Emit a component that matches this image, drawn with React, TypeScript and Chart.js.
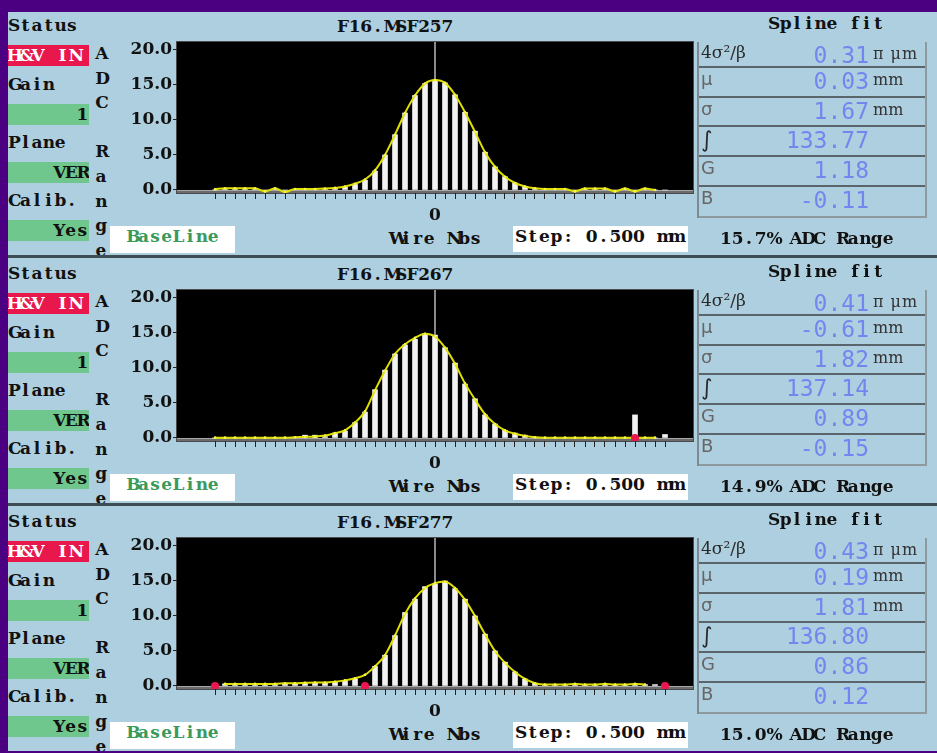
import React, { useEffect, useRef } from "react";
import { Chart, registerables } from "chart.js";

Chart.register(...registerables);

// ---------- data ----------
const WIRES = [
  -22, -21, -20, -19, -18, -17, -16, -15, -14, -13, -12, -11, -10, -9, -8, -7, -6, -5, -4, -3, -2, -1,
  0, 1, 2, 3, 4, 5, 6, 7, 8, 9, 10, 11, 12, 13, 14, 15, 16, 17, 18, 19, 20, 21, 22, 23,
];
const Y_TICKS = [0, 5, 10, 15, 20];

const TITLES = ["F16.MSF257", "F16.MSF267", "F16.MSF277"];
const ADC_RANGES = ["15.7%", "14.9%", "15.0%"];

const BARS_257 = [
  0.0, 0.1, 0.1, 0.1, 0.1, 0.0, 0.1, 0.0, 0.1, 0.1, 0.1, 0.2, 0.3, 0.4, 0.8, 1.4, 2.7, 5.0, 7.9, 11.0, 13.5, 15.2,
  15.7, 15.3, 13.6, 11.1, 8.4, 5.4, 3.3, 1.9, 1.0, 0.5, 0.2, 0.1, 0.1, 0.1, 0.0, 0.1, 0.1, 0.1, 0.0, 0.1, 0.0, 0.1, 0.0, 0.0,
];
const FIT_257 = [
  0.1, 0.25, 0.25, 0.25, 0.25, -0.2, 0.25, -0.3, 0.15, 0.15, 0.15, 0.2, 0.3, 0.5, 0.9, 1.5, 2.8, 5.0, 7.9, 11.0, 13.5, 15.2,
  15.7, 15.3, 13.6, 11.1, 8.3, 5.4, 3.3, 1.9, 1.0, 0.5, 0.25, 0.15, 0.15, 0.15, -0.2, 0.2, 0.2, 0.2, -0.2, 0.2, -0.2, 0.2, 0.0, null,
];
const REJECT_WIRES_257: number[] = [];
const REJECT_VALUES_257: number[] = [];

const BARS_267 = [
  0.0, 0.0, 0.0, 0.0, 0.0, 0.0, 0.0, 0.1, 0.1, 0.4, 0.4, 0.2, 0.7, 1.0, 2.2, 3.7, 6.9, 9.7, 12.0, 13.3, 14.1, 14.9,
  14.7, 12.9, 10.7, 7.7, 5.6, 3.3, 2.0, 1.1, 0.7, 0.4, 0.1, 0.0, 0.0, 0.0, 0.0, 0.0, 0.0, 0.0, 0.0, 0.0, 3.3, 0.0, 0.0, 0.5,
];
const FIT_267 = [
  0.05, 0.05, 0.05, 0.05, 0.05, 0.05, 0.05, 0.05, 0.1, 0.15, 0.2, 0.35, 0.7, 1.1, 2.2, 3.8, 6.8, 9.6, 12.0, 13.4, 14.3, 14.9,
  14.5, 12.9, 10.6, 7.8, 5.5, 3.4, 2.0, 1.1, 0.6, 0.3, 0.1, 0.05, 0.05, 0.05, 0.05, 0.05, 0.05, 0.05, 0.05, 0.05, 0.05, 0.05, 0.05, null,
];
const REJECT_WIRES_267 = [20];
const REJECT_VALUES_267 = [0.0];

const BARS_277 = [
  0.0, 0.3, 0.3, 0.3, 0.3, 0.3, 0.3, 0.4, 0.4, 0.5, 0.5, 0.4, 0.6, 0.8, 1.0, 0.0, 2.8, 4.4, 7.2, 10.5, 12.4, 14.2,
  14.6, 15.0, 13.9, 12.4, 10.0, 7.4, 5.0, 3.4, 2.0, 1.0, 0.4, 0.2, 0.2, 0.2, 0.3, 0.2, 0.2, 0.3, 0.2, 0.2, 0.3, 0.2, 0.2, 0.0,
];
const FIT_277 = [
  null, 0.3, 0.3, 0.3, 0.3, 0.3, 0.3, 0.4, 0.4, 0.45, 0.5, 0.5, 0.6, 0.8, 1.1, 1.6, 2.8, 4.4, 7.2, 10.3, 12.5, 14.0,
  14.7, 14.9, 14.0, 12.3, 10.0, 7.4, 5.0, 3.3, 2.0, 1.0, 0.4, 0.2, 0.2, 0.2, 0.3, 0.2, 0.2, 0.3, 0.2, 0.2, 0.3, 0.2, null, null,
];
const REJECT_WIRES_277 = [-22, -7, 23];
const REJECT_VALUES_277 = [0.0, 0.0, 0.0];

const FIT_LABELS = ["4σ²/β", "μ", "σ", "∫", "G", "B"];
const FIT_UNITS = ["π μm", "mm", "mm", "", "", ""];
const FIT_VALUES_257 = ["0.31", "0.03", "1.67", "133.77", "1.18", "-0.11"];
const FIT_VALUES_267 = ["0.41", "-0.61", "1.82", "137.14", "0.89", "-0.15"];
const FIT_VALUES_277 = ["0.43", "0.19", "1.81", "136.80", "0.86", "0.12"];

const STATUS_LABELS = ["Status", "Gain", "Plane", "Calib."];
const STATUS_VALUES = ["H&V IN", "1", "VER", "Yes"];
const ADC_LETTERS = ["A", "D", "C", "", "R", "a", "n", "g", "e"];

const PANELS = [
  { title: TITLES[0], adc: ADC_RANGES[0], bars: BARS_257, fit: FIT_257, rejW: REJECT_WIRES_257, rejV: REJECT_VALUES_257, vals: FIT_VALUES_257 },
  { title: TITLES[1], adc: ADC_RANGES[1], bars: BARS_267, fit: FIT_267, rejW: REJECT_WIRES_267, rejV: REJECT_VALUES_267, vals: FIT_VALUES_267 },
  { title: TITLES[2], adc: ADC_RANGES[2], bars: BARS_277, fit: FIT_277, rejW: REJECT_WIRES_277, rejV: REJECT_VALUES_277, vals: FIT_VALUES_277 },
];

// ---------- styles ----------
const BG = "#aecfdf";
const PURPLE = "#4b0082";
const FAMILY = "'DejaVu Serif', serif";
const BOLD = `bold 17px ${FAMILY}`;
const CELL = 11.6;
const AXIS_FONT = { family: FAMILY, size: 17, weight: "bold" as const };

const plotPlugin = {
  id: "plotBg",
  beforeDraw(chart: any) {
    const { ctx, chartArea, scales } = chart;
    const { left, top, right, bottom } = chartArea;
    const y0 = scales.y.getPixelForValue(0);
    const cx = scales.x.getPixelForValue(0);
    ctx.save();
    ctx.fillStyle = "#000";
    ctx.fillRect(left, top, right - left, bottom - top);
    ctx.fillStyle = "#6c6c6c";
    ctx.fillRect(left, y0, right - left, bottom - y0);
    ctx.fillStyle = "#a8a8a8";
    ctx.fillRect(left, y0, right - left, 1);
    ctx.fillStyle = "#8a8a8a";
    ctx.fillRect(cx - 1, top, 2, y0 - top);
    ctx.strokeStyle = "#4a4a4a";
    ctx.lineWidth = 1;
    ctx.strokeRect(left - 0.5, top - 0.5, right - left + 1, bottom - top + 1);
    ctx.restore();
  },
};

function WireChart({ bars, fit, rejW, rejV }: any) {
  const ref = useRef<HTMLCanvasElement>(null);
  useEffect(() => {
    const chart = new Chart(ref.current as HTMLCanvasElement, {
      type: "bar",
      data: {
        datasets: [
          {
            type: "line",
            data: rejW.map((w: number, i: number) => ({ x: w, y: rejV[i] })),
            showLine: false,
            pointRadius: 4,
            pointBackgroundColor: "#ec1650",
            pointBorderWidth: 0,
          } as any,
          {
            type: "line",
            data: WIRES.map((w, i) => ({ x: w, y: fit[i] })),
            borderColor: "#e0e000",
            borderWidth: 2,
            cubicInterpolationMode: "monotone",
            pointRadius: 1.3,
            pointBackgroundColor: "#f6f650",
            pointBorderWidth: 0,
            spanGaps: false,
          } as any,
          {
            type: "bar",
            data: WIRES.map((w, i) => ({ x: w, y: bars[i] })),
            backgroundColor: "#f2f2f2",
            barThickness: 5,
            borderWidth: 0,
          } as any,
        ],
      },
      options: {
        animation: false,
        responsive: false,
        devicePixelRatio: 1,
        events: [],
        layout: { padding: { top: 4, right: 7, left: 0, bottom: 0 } },
        plugins: { legend: { display: false }, tooltip: { enabled: false } },
        scales: {
          x: {
            type: "linear",
            min: -25.8,
            max: 25.8,
            offset: false,
            grid: { offset: false, drawOnChartArea: false, drawTicks: true, tickLength: 6, color: "#222" },
            border: { display: false },
            ticks: {
              autoSkip: false,
              maxRotation: 0,
              minRotation: 0,
              padding: 6,
              color: "#111",
              font: AXIS_FONT,
              callback: (v: any) => (Number(v) === 0 ? "0" : ""),
            },
            afterBuildTicks: (s: any) => {
              s.ticks = WIRES.map((v) => ({ value: v }));
            },
            afterFit: (s: any) => {
              s.height = 30;
              s.paddingLeft = 0;
              s.paddingRight = 0;
            },
          },
          y: {
            type: "linear",
            min: -0.43,
            max: 21.14,
            grid: { drawOnChartArea: false, drawTicks: true, tickLength: 4, color: "#222" },
            border: { display: false },
            ticks: {
              padding: 1,
              color: "#111",
              font: AXIS_FONT,
              callback: (v: any) => Number(v).toFixed(1),
            },
            afterBuildTicks: (s: any) => {
              s.ticks = Y_TICKS.map((v) => ({ value: v }));
            },
            afterFit: (s: any) => {
              s.width = 67;
              s.paddingTop = 0;
              s.paddingBottom = 0;
            },
          },
        } as any,
      },
      plugins: [plotPlugin],
    });
    return () => chart.destroy();
  }, []);
  return (
    <canvas
      ref={ref}
      width={590}
      height={185}
      style={{ position: "absolute", left: 110, top: 28, width: 590, height: 185 }}
    />
  );
}

// fixed-pitch text: every glyph centred in a cell of the same width
function Mono({ text, cell = CELL }: any) {
  return (
    <>
      {String(text)
        .split("")
        .map((ch: string, i: number) => (
          <span key={i} style={{ display: "inline-block", width: cell, textAlign: "center" }}>
            {ch === " " ? "\u00a0" : ch}
          </span>
        ))}
    </>
  );
}

function Txt({ x, cy, text, align = "left", color = "#111", font = BOLD, width = 300, style = {} }: any) {
  const left = align === "left" ? x : align === "center" ? x - width / 2 : x - width;
  return (
    <div
      style={{
        position: "absolute",
        left,
        top: cy - 12,
        width,
        height: 24,
        lineHeight: "24px",
        textAlign: align,
        color,
        font,
        whiteSpace: "pre",
        ...style,
      }}
    >
      <Mono text={text} />
    </div>
  );
}

function StatusBox({ top, text, red }: any) {
  return (
    <div
      style={{
        position: "absolute",
        left: 8,
        top,
        width: 81,
        height: 21,
        background: red ? "#e8174c" : "#6fc78e",
        overflow: "hidden",
      }}
    >
      <div
        style={{
          position: "absolute",
          right: red ? 8 : 1,
          top: 0,
          height: 21,
          lineHeight: "21px",
          font: BOLD,
          color: red ? "#fff" : "#111",
          whiteSpace: "pre",
        }}
      >
        <Mono text={text} cell={red ? 12.4 : CELL} />
      </div>
    </div>
  );
}

const ROW_H = [26, 30, 29, 30, 30, 31];

function FitTable({ vals }: any) {
  let y = 0;
  return (
    <div
      style={{
        position: "absolute",
        left: 697,
        top: 32,
        width: 226,
        height: 176,
        borderLeft: "2px solid #7d8a90",
        borderRight: "2px solid #8d9aa0",
      }}
    >
      {FIT_LABELS.map((lab, i) => {
        const top = y;
        y += ROW_H[i];
        const h = ROW_H[i];
        const first = i === 0;
        return (
          <div
            key={i}
            style={{
              position: "absolute",
              left: 0,
              top,
              width: 226,
              height: h - 2,
              borderBottom: i < 5 ? "2px solid #59656b" : "2px solid #8d9aa0",
            }}
          >
            <div
              style={{
                position: "absolute",
                left: 2,
                top: 0,
                height: h - 2,
                lineHeight: `${h - 2}px`,
                font: first ? "17px 'DejaVu Serif', serif" : i === 3 ? "22px 'DejaVu Sans', sans-serif" : "18px 'DejaVu Sans', sans-serif",
                color: first || i === 3 ? "#2a2a2a" : "#666",
                whiteSpace: "pre",
              }}
            >
              {lab}
            </div>
            <div
              style={{
                position: "absolute",
                right: 226 - 170,
                top: 0,
                height: h - 2,
                lineHeight: `${h - 2}px`,
                font: "23px 'DejaVu Sans Mono', monospace",
                color: "#7386f0",
                whiteSpace: "pre",
              }}
            >
              {vals[i]}
            </div>
            <div
              style={{
                position: "absolute",
                left: 174,
                top: 2,
                height: h - 2,
                lineHeight: `${h - 2}px`,
                font: "16px 'DejaVu Serif', serif",
                color: "#333",
                letterSpacing: i === 0 ? 1 : 0,
                whiteSpace: "pre",
              }}
            >
              {FIT_UNITS[i]}
            </div>
          </div>
        );
      })}
    </div>
  );
}

function Panel({ top, p }: any) {
  return (
    <div style={{ position: "absolute", left: 0, top, width: 937, height: 245, background: BG, overflow: "hidden" }}>
      <Txt x={8} cy={17} text={STATUS_LABELS[0]} />
      <StatusBox top={35} text={STATUS_VALUES[0]} red />
      <Txt x={8} cy={76} text={STATUS_LABELS[1]} />
      <StatusBox top={94} text={STATUS_VALUES[1]} />
      <Txt x={8} cy={134} text={STATUS_LABELS[2]} />
      <StatusBox top={152} text={STATUS_VALUES[2]} />
      <Txt x={8} cy={192} text={STATUS_LABELS[3]} />
      <StatusBox top={210} text={STATUS_VALUES[3]} />

      {ADC_LETTERS.map((l, k) => (
        <Txt key={k} x={101} cy={45 + 24.6 * k} align="center" width={20} text={l} />
      ))}

      <Txt x={395} cy={18} align="center" text={p.title} />
      <WireChart bars={p.bars} fit={p.fit} rejW={p.rejW} rejV={p.rejV} />

      <div style={{ position: "absolute", left: 110, top: 216, width: 125, height: 27, background: "#fff" }}>
        <div style={{ textAlign: "center", lineHeight: "27px", font: BOLD, color: "#3b9a5a", whiteSpace: "pre" }}>
          <Mono text="BaseLine" />
        </div>
      </div>
      <Txt x={435} cy={230} align="center" text="Wire Nbs" />
      <div style={{ position: "absolute", left: 513, top: 216, width: 175, height: 26, background: "#fff", overflow: "hidden" }}>
        <div style={{ paddingLeft: 2, lineHeight: "26px", font: BOLD, color: "#111", whiteSpace: "pre" }}>
          <Mono text="Step: 0.500 mm" cell={11.8} />
        </div>
      </div>

      <Txt x={826} cy={15} align="center" text="Spline fit" />
      <FitTable vals={p.vals} />
      <Txt x={807} cy={230} align="center" text={`${p.adc} ADC Range`} />
    </div>
  );
}

export default function App() {
  return (
    <div
      style={{
        position: "fixed",
        left: 0,
        top: 0,
        width: 937,
        height: 753,
        background: PURPLE,
        overflow: "hidden",
      }}
    >
      {PANELS.map((p, i) => (
        <Panel key={i} top={10 + 248 * i} p={p} />
      ))}
      <div style={{ position: "absolute", left: 0, top: 255, width: 937, height: 3, background: "#3e4c53" }} />
      <div style={{ position: "absolute", left: 0, top: 503, width: 937, height: 3, background: "#3e4c53" }} />
      <div style={{ position: "absolute", left: 0, top: 0, width: 937, height: 12, background: PURPLE }} />
      <div style={{ position: "absolute", left: 0, top: 0, width: 8, height: 753, background: PURPLE }} />
    </div>
  );
}
